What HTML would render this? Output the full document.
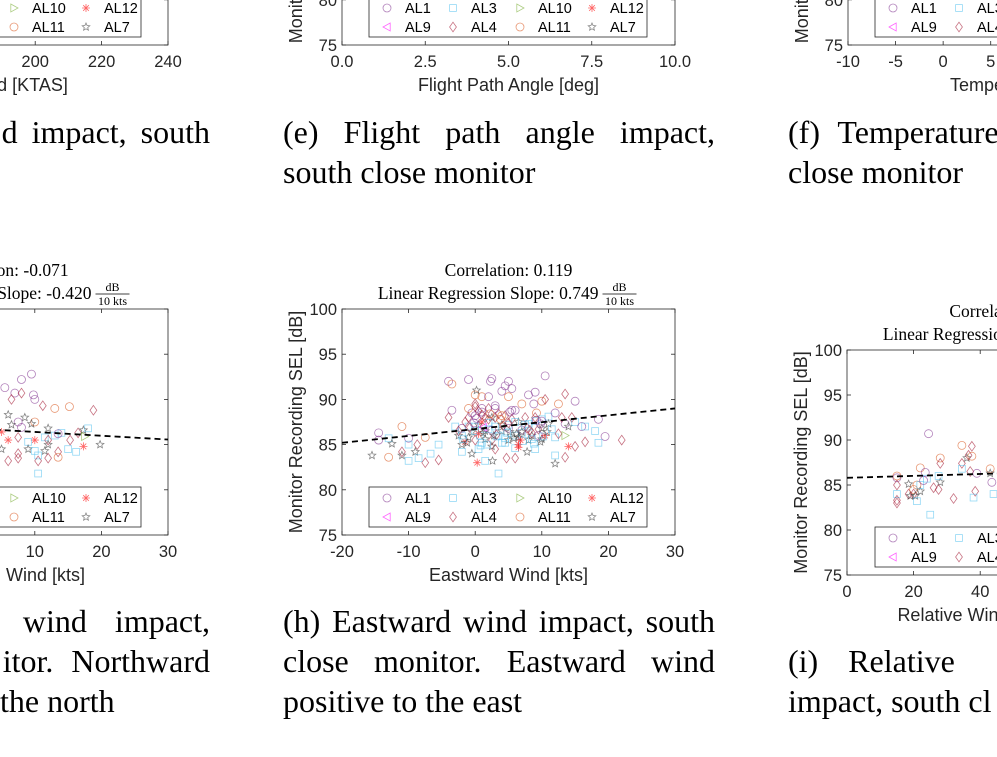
<!DOCTYPE html>
<html><head><meta charset="utf-8"><style>
html,body{margin:0;padding:0;background:#fff;width:997px;height:757px;overflow:hidden;position:relative}
svg{position:absolute;left:0;top:0}
.cap{position:absolute;font-family:"Liberation Serif",serif;font-size:32px;line-height:40px;color:#000;white-space:nowrap}
.j{text-align:justify;text-align-last:justify;width:432px}
</style></head><body>
<svg id="fig" width="997" height="757" xmlns="http://www.w3.org/2000/svg"></svg>

<div class="cap" style="left:0;top:112px;width:210px;text-align:right;word-spacing:6px">d impact, south</div>
<div class="cap j" style="left:283px;top:112px">(e) Flight path angle impact,</div>
<div class="cap" style="left:283px;top:152px">south close monitor</div>
<div class="cap" style="left:788px;top:112px;word-spacing:10px">(f) Temperature</div>
<div class="cap" style="left:788px;top:152px">close monitor</div>

<div class="cap" style="left:0;top:601px;width:210px;text-align:right;word-spacing:20px">wind impact,</div>
<div class="cap" style="left:0;top:641px;width:210px;text-align:right;word-spacing:10px">itor. Northward</div>
<div class="cap" style="left:0;top:681px">the north</div>
<div class="cap j" style="left:283px;top:601px">(h) Eastward wind impact, south</div>
<div class="cap j" style="left:283px;top:641px">close monitor. Eastward wind</div>
<div class="cap" style="left:283px;top:681px">positive to the east</div>
<div class="cap" style="left:788px;top:641px;word-spacing:22px">(i) Relative</div>
<div class="cap" style="left:788px;top:681px">impact, south cl</div>

<script>
// ---- data ----
const seriesNames = ['AL1','AL3','AL10','AL12','AL9','AL4','AL11','AL7'];
const seriesColors = ['#7e2f8e','#4dbeee','#77ac30','#ff0000','#ff00ff','#a2142f','#d95319','#333333'];
const seriesMarkers = ['circle','square','tri-right','asterisk','tri-left','diamond','circle','star'];

const hX = [-14.5,-14.5,-15.5,-13,-13,-12.5,-11,-11,-10,-10,-10,-9,-8.7,-8.5,-7.5,-7.5,-11,-6.7,-5.5,-5.5,-4,-3.5,-3.5,-4,-3,-2.5,-2,-2,-1.5,-1,-1,-1,-0.5,-0.5,0,0,0,0,0,0.2,0.3,0.5,0.5,0.7,1,1,1,1,1.5,1.5,1.5,2,2,2,2.3,2.5,2.5,2.5,2.6,3,3,3,3.5,3.5,4,4,4,4.5,4.5,4.7,5,5,5,5,5.5,5.5,6,6,6,6.5,6.5,7,7,7.5,7.8,8,8,8.5,8.8,9,9,9.2,9.5,9.8,10,10,10,10.5,10.5,10.5,11,11,12,12,12,12,12.5,12.5,13,13.5,13.5,13.5,13.5,14,14,14.5,15,15,15,16,16.5,16.5,18,18.5,18.5,19.5,22,
 -2,-1.5,-1,-0.5,0,0.5,1,1.5,2,2.5,3,3.5,4,4.5,5,5.5,6,6.5,7,7.5,8,8.5,9,9.5,10,-1,0,1,2,3,4,5,6,7,8,9,10,-2,0.5,2.5,4.5,6.5,8.5,1.2,3.2,5.2,
 -1.8,-0.8,0.2,1.2,2.2,3.2,4.2,5.2,6.2,7.2,8.2,9.2,10.2,-1.2,0.8,2.8,4.8,6.8,8.8,10.8,-2.5,-0.2,1.8,3.8,5.8,7.8,9.8,11.5];
const hY = [86.3,85.5,83.8,85.7,83.6,85.1,84.2,83.8,85.7,85,83.2,84.2,85,83.5,83,85.8,87,84,83.3,85,92,91.7,88.8,88,87,86,86.8,84.2,85.3,92.2,88,87,86.4,84,90.5,89.5,88.2,86.5,85.5,91,83,88.7,87.2,86,90.3,89,87.5,85.2,88,86.5,83.2,90.3,89,86.7,92,92.3,88,85.5,83.2,89.3,87,84.5,81.8,88.4,90.9,86.5,85.2,91.5,88.2,83.5,90.3,92,87.2,85.5,91.2,88.8,86,84.6,83.5,85,87.5,89.5,86.3,88,84.2,90.5,87.3,86,89.5,90.8,84.5,88.5,86.7,85.3,89.8,87.8,85.6,92.6,90,86,88.1,87.3,88.5,85.8,83.8,82.9,89.5,86.2,88,90.6,87.3,86,83.6,84.8,87,88,89.8,87.5,84.8,87,85.3,87,86.5,85.2,87.8,85.9,85.5,
 86,87.5,85.8,88.5,87,86.2,88.3,85.6,87.4,86.6,88,86,87.2,85.7,86.8,87.8,87.5,85.8,86.6,87.2,85.5,86.3,87.6,86,86.8,89,89.2,88.6,87.8,89,88.2,87.4,88.8,86.4,87,88,87.6,85,84.5,84.8,85.2,84.7,85.6,86.9,86.1,86.4,
 85.6,86.9,87.9,86.3,88.4,85.9,87.1,88.6,86.2,85.4,86.6,87.7,85.9,85.2,84.9,86.0,86.3,85.5,85.1,86.4,86.5,87.4,85.0,87.8,85.7,86.8,87.3,86.7];
const hS = [0,0,7,1,6,7,5,7,0,1,1,7,5,1,5,6,6,1,5,1,0,6,0,5,1,7,0,1,3,0,5,1,7,7,6,5,0,1,5,7,3,5,7,1,6,0,3,1,5,7,1,0,5,1,0,0,7,5,7,0,1,5,1,5,0,7,1,0,5,5,6,0,1,7,0,0,1,1,5,3,7,6,1,5,7,0,1,7,0,0,1,6,5,7,6,1,7,0,5,3,1,7,0,1,1,7,6,5,5,5,0,2,5,3,7,5,0,1,5,0,5,1,1,1,0,0,5,
 1,5,7,0,1,3,5,7,1,0,5,1,7,1,0,5,1,7,0,1,7,5,1,0,7,6,5,0,5,0,6,5,0,7,1,5,0,7,1,7,1,3,1,4,5,7,
 1,5,0,7,6,1,5,0,7,1,5,0,1,7,1,7,1,3,1,7,5,0,1,6,7,5,0,1];

const gX = [9.5,8,5.5,7,9.8,10,8,6.5,3,13,15.2,18.8,11.2,10,7.5,8.5,9.5,6,4,2,4,12,14,16.5,17.3,18,17.5,17.3,19.8,13,13.5,11.5,12,10,9,7.5,6,5,3,2,1,-0.5,1.5,4,7.5,9,10,11.5,12,10.5,13.5,13.5,15,16.2,15.3,12,10.5,7.5,6,4,10.5,2,0,-2,1,3,-3,-1,0.5,2.5,5,6.5,8];
const gY = [92.8,92.2,91.3,90.7,90.5,90,90.7,90,90.2,89,89.2,88.8,89.3,87.5,87.5,88,87.3,88.3,88.5,88,87,86.8,86.3,86.3,86.6,86.8,85.9,84.8,85,86,86.2,85.8,85.5,85.5,85.3,85.8,85.5,84.5,85,84.5,85,84.5,83.8,84,84,84.5,84.3,84.3,85,83.8,84.2,83.6,84.5,84.2,85.5,83.5,83.2,83.5,83.2,82.8,81.8,86,86.5,87,88.8,91.2,86.3,85.5,86.8,87.6,86.4,87.2,86.9];
const gS = [0,0,0,0,0,0,5,5,6,6,6,5,5,6,0,7,7,7,5,0,0,7,1,5,7,1,2,3,7,1,0,1,5,3,1,5,3,7,1,5,1,5,1,7,5,7,1,7,7,1,5,6,1,1,5,5,5,5,5,7,1,1,0,5,6,0,1,5,7,1,3,7,0];

const iX = [15,15,15,15,15,15,18.5,18.5,19,20,20,20.5,21,21,22,22,22,23.5,23,24,24.5,25,26,28,28,28,27.5,27.5,32,34.5,34.5,34.5,36,36.5,37.5,37.5,37,38.5,38,39,43,43,43.5,44];
const iY = [86,85.8,85,84,83.3,83,85.1,84,83.8,84.5,84,83.8,85,83.2,84.3,86.9,85,86.4,85.5,85.7,90.7,81.7,84.7,88,87.4,85.3,84.5,86,83.5,89.4,87.4,86.8,88,88.3,89.3,88.2,86.5,84.3,83.6,86.3,86.8,86.3,85.3,84];
const iS = [6,0,5,1,5,5,7,5,7,6,5,7,6,1,7,6,1,0,0,1,0,1,5,6,5,7,5,1,5,6,5,1,7,5,5,6,5,5,1,0,6,7,0,1];

// regression lines: [x0, y0, x1, y1] in data units
const hLine = [-20,85.2,30,89.0];
const gLine = [-20,87.66,30,85.56];
const iLine = [0,85.8,150,87.4];

const NS='http://www.w3.org/2000/svg';
const svg=document.getElementById('fig');
function mk(tag,attrs,parent){const e=document.createElementNS(NS,tag);for(const k in attrs)e.setAttribute(k,attrs[k]);(parent||svg).appendChild(e);return e;}
function txt(s,x,y,attrs,parent){const t=mk('text',Object.assign({x:x,y:y},attrs),parent);t.textContent=s;return t;}

function marker(g,type,cx,cy,color,r){
  let e;const st={fill:'none',stroke:color,'stroke-width':0.8,'stroke-opacity':0.6};
  if(type==='circle'){e=mk('circle',Object.assign({cx:cx,cy:cy,r:r},st),g);}
  else if(type==='square'){e=mk('rect',Object.assign({x:cx-r*0.85,y:cy-r*0.85,width:r*1.7,height:r*1.7},st),g);}
  else if(type==='diamond'){e=mk('polygon',Object.assign({points:`${cx},${cy-r*1.2} ${cx+r*0.85},${cy} ${cx},${cy+r*1.2} ${cx-r*0.85},${cy}`},st),g);}
  else if(type==='tri-right'){e=mk('polygon',Object.assign({points:`${cx-r*0.8},${cy-r} ${cx+r},${cy} ${cx-r*0.8},${cy+r}`},st),g);}
  else if(type==='tri-left'){e=mk('polygon',Object.assign({points:`${cx+r*0.8},${cy-r} ${cx-r},${cy} ${cx+r*0.8},${cy+r}`},st),g);}
  else if(type==='asterisk'){let d='';for(let a=0;a<4;a++){const an=a*Math.PI/4;d+=`M${cx-r*Math.cos(an)},${cy-r*Math.sin(an)}L${cx+r*Math.cos(an)},${cy+r*Math.sin(an)}`;}e=mk('path',Object.assign({d:d},st),g);}
  else if(type==='star'){let p=[];for(let k=0;k<10;k++){const rr=k%2?r*0.45:r;const an=-Math.PI/2+k*Math.PI/5;p.push((cx+rr*Math.cos(an)).toFixed(1)+','+(cy+rr*Math.sin(an)).toFixed(1));}e=mk('polygon',Object.assign({points:p.join(' ')},st),g);}
  return e;
}

const TICK_FONT='font-family:"Liberation Sans",Arial,sans-serif;font-size:16.5px;fill:#262626';
const LABEL_FONT='font-family:"Liberation Sans",Arial,sans-serif;font-size:18px;fill:#262626';
function chart(cfg){
  const g=mk('g',{});
  
  
  const L=cfg.left,R=cfg.right,T=cfg.top,B=cfg.bottom;
  const sx=v=>L+(v-cfg.xmin)/(cfg.xmax-cfg.xmin)*(R-L);
  const sy=v=>B-(v-75)/25*(B-T);
  mk('rect',{x:L,y:T,width:R-L,height:B-T,fill:'#fff',stroke:'#262626','stroke-width':0.8},g);
  [75,80,85,90,95,100].forEach(v=>{
    const y=sy(v);
    mk('line',{x1:L,y1:y,x2:L+4,y2:y,stroke:'#262626','stroke-width':0.8},g);
    mk('line',{x1:R,y1:y,x2:R-4,y2:y,stroke:'#262626','stroke-width':0.8},g);
    const t=txt(String(v),L-5,y+6,{'text-anchor':'end',style:TICK_FONT},g);
    
    
  });
  cfg.xticks.forEach((v,i)=>{
    const x=sx(v);
    mk('line',{x1:x,y1:B,x2:x,y2:B-4,stroke:'#262626','stroke-width':0.8},g);
    mk('line',{x1:x,y1:T,x2:x,y2:T+4,stroke:'#262626','stroke-width':0.8},g);
    const t=txt(cfg.xtickLabels[i],x,B+22,{'text-anchor':'middle',style:TICK_FONT},g);
    
    
  });
  if(cfg.px){
    const pg=mk('g',{},g);
    
    
    cfg.px.forEach((xv,i)=>{
      const s=cfg.ps[i];
      const m=marker(pg,seriesMarkers[s],sx(xv),sy(cfg.py[i]),seriesColors[s],4);
      
      
    });
  }
  if(cfg.line){
    const cp=mk('clipPath',{id:cfg.name+'-clip'},g);
    mk('rect',{x:L,y:T,width:R-L,height:B-T},cp);
    const ln=mk('line',{x1:sx(cfg.line[0]),y1:sy(cfg.line[1]),x2:sx(cfg.line[2]),y2:sy(cfg.line[3]),stroke:'#000','stroke-width':1.8,'stroke-dasharray':'6,4','clip-path':`url(#${cfg.name}-clip)`},g);
    
    
  }
  const lx=cfg.legendLeft,ly=cfg.legendTop;
  const lg=mk('g',{},g);
  
  
  mk('rect',{x:lx,y:ly,width:278,height:40,fill:'#fff',stroke:'#262626','stroke-width':0.8},lg);
  const colOff=[18,84,151,223];
  [0,1,2,3,4,5,6,7].forEach((s,k)=>{
    const col=k%4,row=Math.floor(k/4);
    const mxp=lx+colOff[col],myp=ly+11+row*19;
    const e=mk('g',{},lg);
    
    
    marker(e,seriesMarkers[s],mxp,myp,seriesColors[s],4);
    txt(seriesNames[s],mxp+18,myp+5,{style:'font-family:"Liberation Sans",Arial,sans-serif;font-size:14.5px;fill:#000'},e);
  });
  const xl=txt(cfg.xlabel,(L+R)/2,B+46,{'text-anchor':'middle',style:LABEL_FONT},g);
  
  
  const cy=(T+B)/2;
  const yl=txt('Monitor Recording SEL [dB]',L-40,cy,{'text-anchor':'middle',transform:`rotate(-90 ${L-40} ${cy})`,style:LABEL_FONT},g);
  
  
  if(cfg.corr){
    const c=(L+R)/2, ts='font-family:"Liberation Serif",serif;font-size:17.5px;fill:#000';
    const t1=txt('Correlation: '+cfg.corr,c,T-33,{'text-anchor':'middle',style:ts},g);
    
    
    const t2=txt('Linear Regression Slope: '+cfg.slope,c+90,T-10,{'text-anchor':'end',style:ts},g);
    
    
    const fs='font-family:"Liberation Serif",serif;font-size:12px;fill:#000';
    txt('dB',c+111,T-18,{'text-anchor':'middle',style:fs},g);
    mk('line',{x1:c+94,y1:T-15,x2:c+128,y2:T-15,stroke:'#000','stroke-width':0.7},g);
    txt('10 kts',c+111,T-4,{'text-anchor':'middle',style:fs},g);
  }
}

chart({name:'chart-d-airspeed',left:-164,right:168,top:-181,bottom:45,xmin:140,xmax:240,xticks:[200,220,240],xtickLabels:['200','220','240'],legendLeft:-137,legendTop:-3,xlabel:'Airspeed [KTAS]'});
chart({name:'chart-e-flight-path-angle',left:342,right:675,top:-181,bottom:45,xmin:0,xmax:10,xticks:[0,2.5,5,7.5,10],xtickLabels:['0.0','2.5','5.0','7.5','10.0'],legendLeft:369,legendTop:-3,xlabel:'Flight Path Angle [deg]'});
chart({name:'chart-f-temperature',left:848,right:1181,top:-181,bottom:45,xmin:-10,xmax:25,xticks:[-10,-5,0,5,10,15,20,25],xtickLabels:['-10','-5','0','5','10','15','20','25'],legendLeft:875,legendTop:-3,xlabel:'Temperature [C]'});
chart({name:'chart-g-northward-wind',left:-165,right:168,top:309,bottom:535,xmin:-20,xmax:30,xticks:[-20,-10,0,10,20,30],xtickLabels:['-20','-10','0','10','20','30'],legendLeft:-137,legendTop:487,xlabel:'Northward Wind [kts]',px:gX,py:gY,ps:gS,line:gLine,corr:'-0.071',slope:'-0.420'});
chart({name:'chart-h-eastward-wind',left:342,right:675,top:309,bottom:535,xmin:-20,xmax:30,xticks:[-20,-10,0,10,20,30],xtickLabels:['-20','-10','0','10','20','30'],legendLeft:369,legendTop:487,xlabel:'Eastward Wind [kts]',px:hX,py:hY,ps:hS,line:hLine,corr:'0.119',slope:'0.749'});
chart({name:'chart-i-relative',left:847,right:1180,top:350,bottom:575,xmin:0,xmax:100,xticks:[0,20,40,60,80,100],xtickLabels:['0','20','40','60','80','100'],legendLeft:875,legendTop:527,xlabel:'Relative Wind Direction [deg]',px:iX,py:iY,ps:iS,line:iLine,corr:'0.0xx',slope:'0.1xx'});
</script>
</body></html>
